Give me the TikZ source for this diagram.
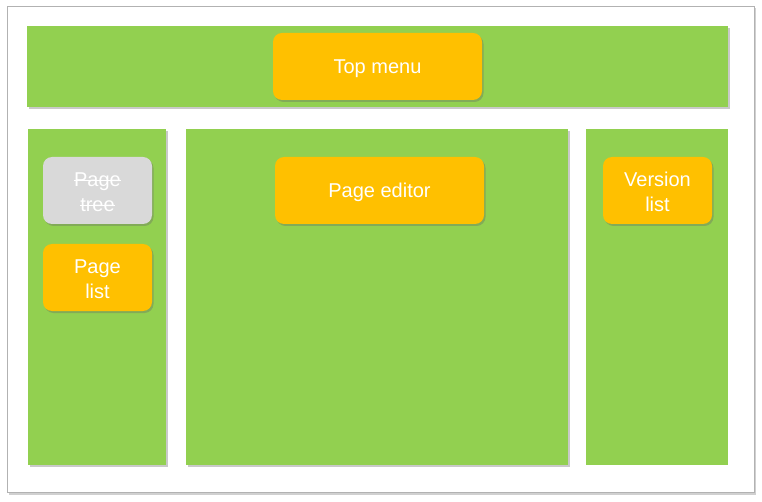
\documentclass[tikz,border=0pt]{standalone}
\usepackage{fontspec}
\setmainfont{Liberation Sans}
\usetikzlibrary{shadows}
\newcommand\mystrike[1]{\setbox0\hbox{#1}\rlap{\copy0}\rule[0.26em]{\wd0}{0.065em}}
\newcommand\twolines[2]{\begin{tabular}[t]{@{}c@{}}#1\\#2\end{tabular}}
\definecolor{pgreen}{HTML}{92D050}
\definecolor{porange}{HTML}{FFC000}
\definecolor{pgray}{HTML}{D9D9D9}
\tikzset{
  panel/.style={fill=pgreen, draw=none, drop shadow={shadow xshift=1.5pt, shadow yshift=-2pt, opacity=0.35, fill=black!60}},
  panelflat/.style={fill=pgreen, draw=none},
  btn/.style={fill=porange, draw=none, rounded corners=9pt, text=white,
    font=\fontsize{20}{25}\selectfont, inner sep=0pt, text height=19pt, text depth=5pt,
    drop shadow={shadow xshift=1.5pt, shadow yshift=-2pt, opacity=0.35, fill=black!60}},
  btntwo/.style={btn, text height=15pt, text depth=23pt},
  btngray/.style={btntwo, fill=pgray},
}
\begin{document}
\begin{tikzpicture}[x=1pt,y=-1pt]
\useasboundingbox (0,0) rectangle (762,502);
\fill[white] (0,0) rectangle (762,502);
\node[draw=black!30, line width=0.8pt, fill=white, minimum width=747pt, minimum height=486pt, inner sep=0pt,
  drop shadow={shadow xshift=2pt, shadow yshift=-2.5pt, opacity=0.3, fill=black!60}] (frame) at (380.5,249) {};
\node[panel, minimum width=701pt, minimum height=81pt, inner sep=0pt] (top) at (377.5,66.5) {};
\node[panel, minimum width=138pt, minimum height=336pt, inner sep=0pt] (left) at (97,297) {};
\node[panel, minimum width=382pt, minimum height=336pt, inner sep=0pt] (mid) at (377,297) {};
\node[panelflat, minimum width=142pt, minimum height=336pt, inner sep=0pt] (right) at (657,297) {};
\node[btn, minimum width=209pt, minimum height=67pt] (topmenu) at (377.5,66.5) {Top menu};
\node[btngray, minimum width=109pt, minimum height=67pt] (pagetree) at (97.5,190.5) {\twolines{\mystrike{Page}}{\mystrike{tree}}};
\node[btntwo, minimum width=109pt, minimum height=67pt] (pagelist) at (97.5,277.5) {\twolines{Page}{list}};
\node[btn, minimum width=209pt, minimum height=67pt] (pageeditor) at (379.5,190.5) {Page editor};
\node[btntwo, minimum width=109pt, minimum height=67pt] (versionlist) at (657.5,190.5) {\twolines{Version}{list}};
\end{tikzpicture}
\end{document}
